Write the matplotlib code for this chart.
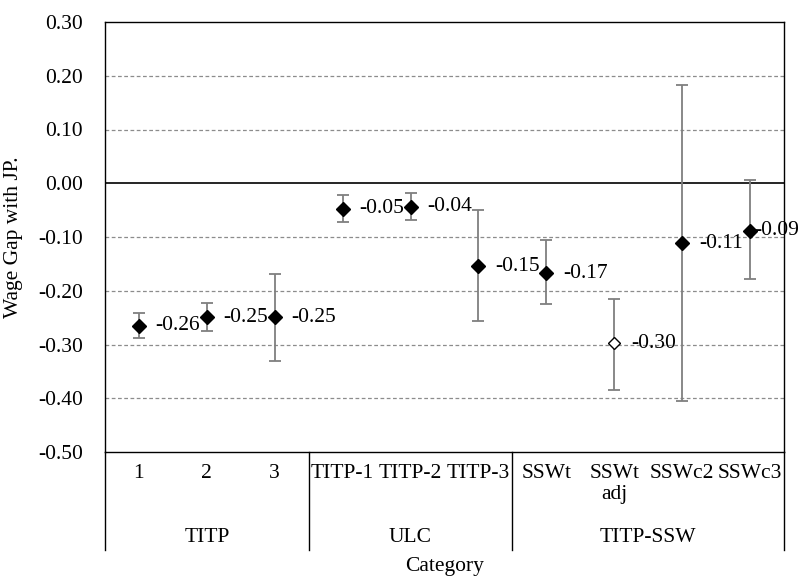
import matplotlib.pyplot as plt

plt.rcParams['font.family'] = ['Liberation Serif', 'DejaVu Serif']

categories = ['1', '2', '3', 'TITP-1', 'TITP-2', 'TITP-3', 'SSWt', 'SSWt\nadj', 'SSWc2', 'SSWc3']
groups = ['TITP', 'ULC', 'TITP-SSW']
group_sizes = [3, 3, 4]
values = [-0.265, -0.249, -0.249, -0.047, -0.044, -0.154, -0.167, -0.298, -0.112, -0.088]
labels = ['-0.26', '-0.25', '-0.25', '-0.05', '-0.04', '-0.15', '-0.17', '-0.30', '-0.11', '-0.09']
upper = [-0.242, -0.223, -0.169, -0.021, -0.018, -0.050, -0.106, -0.215, 0.182, 0.006]
lower = [-0.288, -0.275, -0.331, -0.072, -0.069, -0.257, -0.225, -0.384, -0.406, -0.179]
hollow = [False, False, False, False, False, False, False, True, False, False]

font_size = 15.5
fig = plt.figure(figsize=(7.98, 5.76), dpi=100)
ax = fig.add_axes([105 / 798, 124 / 576, 679 / 798, 430 / 576])

x = list(range(len(categories)))
yerr = [[v - lo for v, lo in zip(values, lower)], [up - v for v, up in zip(values, upper)]]
ax.errorbar(x, values, yerr=yerr, fmt='none', ecolor='#7f7f7f', elinewidth=1.3,
            capsize=4, capthick=1.3, zorder=3)
for xi, v, h, lab in zip(x, values, hollow, labels):
    if h:
        ax.plot(xi, v, marker='D', markersize=6, markerfacecolor='white',
                markeredgecolor='black', markeredgewidth=1, linestyle='none', zorder=4)
    else:
        ax.plot(xi, v, marker='D', markersize=7.5, color='black', linestyle='none', zorder=4)
    dx = 3 if xi == len(categories) - 1 else 12
    ax.annotate(lab, (xi, v), xytext=(dx, 0), textcoords='offset points',
                va='center', ha='left', fontsize=font_size, zorder=5)

ax.set_xlim(-0.5, len(categories) - 0.5)
ax.set_ylim(-0.5, 0.3)
ticks = [0.3, 0.2, 0.1, 0.0, -0.1, -0.2, -0.3, -0.4, -0.5]
ax.set_yticks(ticks)
ax.set_yticklabels(['%.2f' % t for t in ticks], fontsize=font_size)
ax.tick_params(axis='y', length=0, pad=16)
ax.set_xticks([])

for g in [0.2, 0.1, -0.1, -0.2, -0.3, -0.4]:
    ax.axhline(g, color='#8c8c8c', linestyle='--', linewidth=0.9, dashes=(3, 2), zorder=1)
ax.axhline(0, color='black', linewidth=1.2, zorder=2)

for s in ax.spines.values():
    s.set_color('black')
    s.set_linewidth(1.0)

# category table below the axes
trans = ax.get_xaxis_transform()
bottom = -98 / 430
edges = [-0.5]
pos = -0.5
for n in group_sizes:
    pos += n
    edges.append(pos)
for e in edges:
    ax.plot([e, e], [0, bottom], color='black', linewidth=1.0, transform=trans, clip_on=False)

for xi, c in zip(x, categories):
    ax.text(xi, -12 / 430, c, transform=trans, ha='center', va='top',
            fontsize=font_size, linespacing=1.15)

start = -0.5
for g, n in zip(groups, group_sizes):
    ax.text(start + n / 2, -85 / 430, g, transform=trans, ha='center', va='center',
            fontsize=font_size)
    start += n

fig.text(445 / 798, 1 - 566 / 576, 'Category', ha='center', va='center', fontsize=font_size)
fig.text(14 / 798, 1 - 237 / 576, 'Wage Gap with JP.', rotation=90, ha='center', va='center',
         fontsize=font_size)

plt.savefig('out.png', format='png', dpi=100)
